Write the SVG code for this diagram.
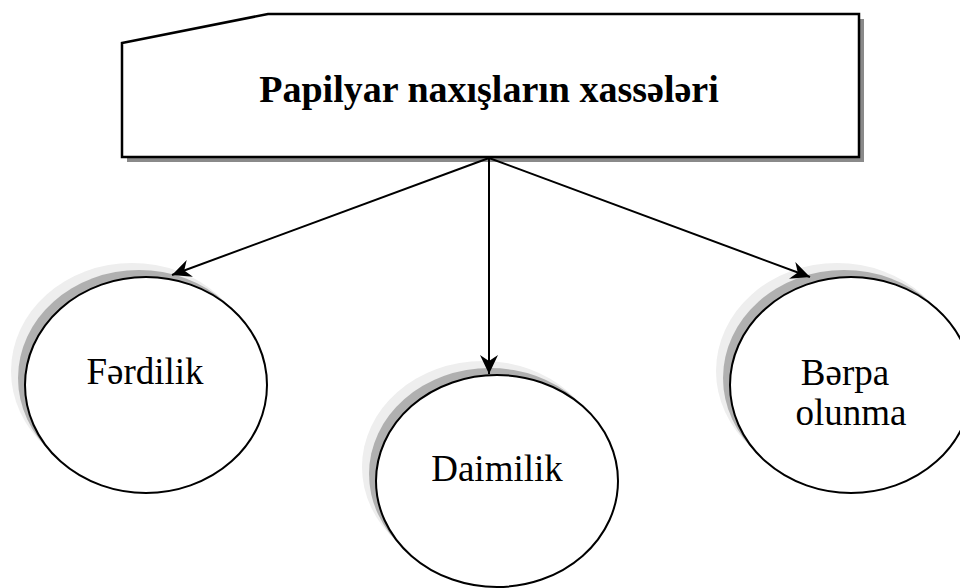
<svg xmlns="http://www.w3.org/2000/svg" width="960" height="588" viewBox="0 0 960 588">
<defs>
<marker id="ah" markerUnits="userSpaceOnUse" markerWidth="24" markerHeight="24" viewBox="-20 -12 24 24" refX="0" refY="0" orient="auto">
<path d="M0,0 L-19,-9 L-13,0 L-19,9 Z" fill="#000"/>
</marker>
</defs>
<style>
.sh1{fill:#eeeeee}
.sh2{fill:#b0b0b0}
.node{fill:#fff;stroke:#000;stroke-width:2}
.lbl{font-family:"Liberation Serif","Times New Roman",serif;font-size:37px;fill:#000;text-anchor:middle}
.title{font-family:"Liberation Serif","Times New Roman",serif;font-size:38px;font-weight:bold;fill:#000;text-anchor:middle}
.conn line{stroke:#000;stroke-width:2;marker-end:url(#ah)}
</style>
<rect width="960" height="588" fill="#fff"/>
<g id="title-node">
<polygon points="127,48 273,19 864,19 864,162 127,162" fill="#8a8a8a"/>
<polygon points="122,43 268,14 859,14 859,157 122,157" fill="#fff" stroke="#000" stroke-width="2.5"/>
<text class="title" x="489" y="102">Papilyar naxışların xassələri</text>
</g>
<g id="node-ferdilik">
<ellipse class="sh1" cx="132" cy="371" rx="121" ry="108"/>
<ellipse class="sh2" cx="139" cy="378" rx="121" ry="108"/>
<ellipse class="node" cx="146" cy="385" rx="121" ry="108"/>
<text class="lbl" x="145" y="384">Fərdilik</text>
</g>
<g id="node-daimilik">
<ellipse class="sh1" cx="483" cy="467" rx="121" ry="106"/>
<ellipse class="sh2" cx="490" cy="474" rx="121" ry="106"/>
<ellipse class="node" cx="497" cy="481" rx="121" ry="106"/>
<text class="lbl" x="497" y="481">Daimilik</text>
</g>
<g id="node-berpa">
<ellipse class="sh1" cx="837" cy="371" rx="121" ry="108"/>
<ellipse class="sh2" cx="844" cy="378" rx="121" ry="108"/>
<ellipse class="node" cx="851" cy="385" rx="121" ry="108"/>
<text class="lbl" x="845" y="385">Bərpa</text>
<text class="lbl" x="851" y="425">olunma</text>
</g>
<g id="connectors" class="conn">
<line x1="489" y1="158" x2="172" y2="275"/>
<line x1="489" y1="158" x2="489" y2="374"/>
<line x1="489" y1="158" x2="810" y2="277"/>
</g>
</svg>
